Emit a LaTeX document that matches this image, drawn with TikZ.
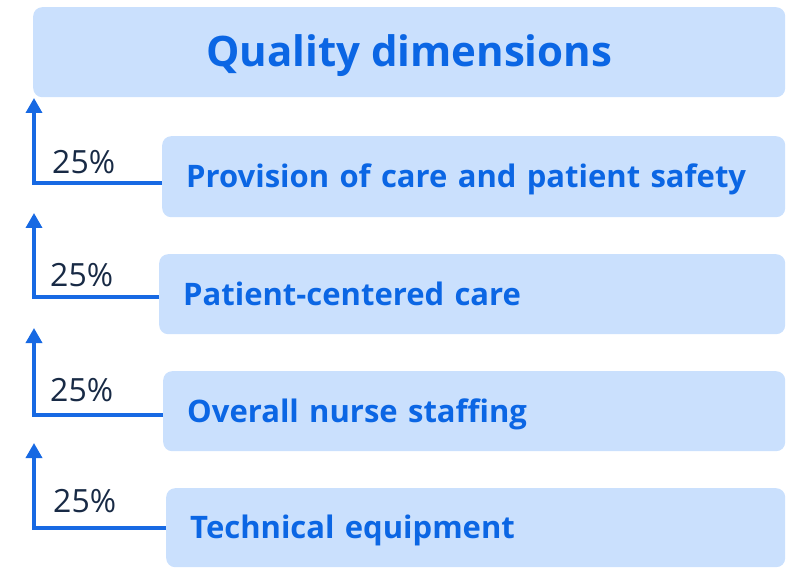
\documentclass[tikz,border=0pt]{standalone}
\usepackage{fontspec}
\setmainfont{Open Sans}
\usetikzlibrary{arrows.meta}
\usetikzlibrary{positioning}
\definecolor{boxfill}{HTML}{CAE0FD}
\definecolor{boxtext}{HTML}{0B66E4}
\definecolor{arrowblue}{HTML}{1769E3}
\definecolor{pctnavy}{HTML}{182A45}

\begin{document}
\begin{tikzpicture}[x=1pt,y=-1pt,
  dimbox/.style={fill=boxfill,text=boxtext,rounded corners=9pt,anchor=north west,
    inner xsep=24pt,inner ysep=0pt,align=left,text height=26pt,text depth=4pt,
    font=\fontsize{31}{36}\selectfont\bfseries},
  pct/.style={text=pctnavy,anchor=base west,inner sep=0pt,font=\fontsize{32}{36}\selectfont},
  flow/.style={draw=arrowblue,line width=3.5pt,-{Triangle[width=16pt,length=15pt]}}]
\useasboundingbox (0,0) rectangle (787,569);
% header
\node[dimbox,align=center,minimum width=752pt,minimum height=90pt,text height=37pt,text depth=8pt,
  font=\fontsize{42}{48}\selectfont\bfseries] (top) at (33,7) {Quality dimensions};
% the four dimensions
\node[dimbox,text width=575pt,minimum height=81pt] (care) at (162,136) {Provision of care and patient safety};
\node[dimbox,text width=578pt,minimum height=80pt] (patient) at (159,254) {Patient-centered care};
\node[dimbox,text width=574pt,minimum height=80pt] (nurse) at (163,371) {Overall nurse staffing};
\node[dimbox,text width=571pt,minimum height=79pt] (equip) at (166,488) {Technical equipment};
% weights
\node[pct] (pct1) at (52,174) {25\%};
\node[pct] (pct2) at (50,287) {25\%};
\node[pct] (pct3) at (50,401) {25\%};
\node[pct] (pct4) at (53,512) {25\%};
% arrows
\coordinate (corner1) at (34,183);
\coordinate (tip1) at (34,98);
\coordinate (corner2) at (34,297);
\coordinate (tip2) at (34,213);
\coordinate (corner3) at (34,415);
\coordinate (tip3) at (34,328);
\coordinate (corner4) at (34,528);
\coordinate (tip4) at (34,443);
\draw[flow] (corner1 -| care.west) -- (corner1) -- (tip1);
\draw[flow] (corner2 -| patient.west) -- (corner2) -- (tip2);
\draw[flow] (corner3 -| nurse.west) -- (corner3) -- (tip3);
\draw[flow] (corner4 -| equip.west) -- (corner4) -- (tip4);
\end{tikzpicture}
\end{document}
